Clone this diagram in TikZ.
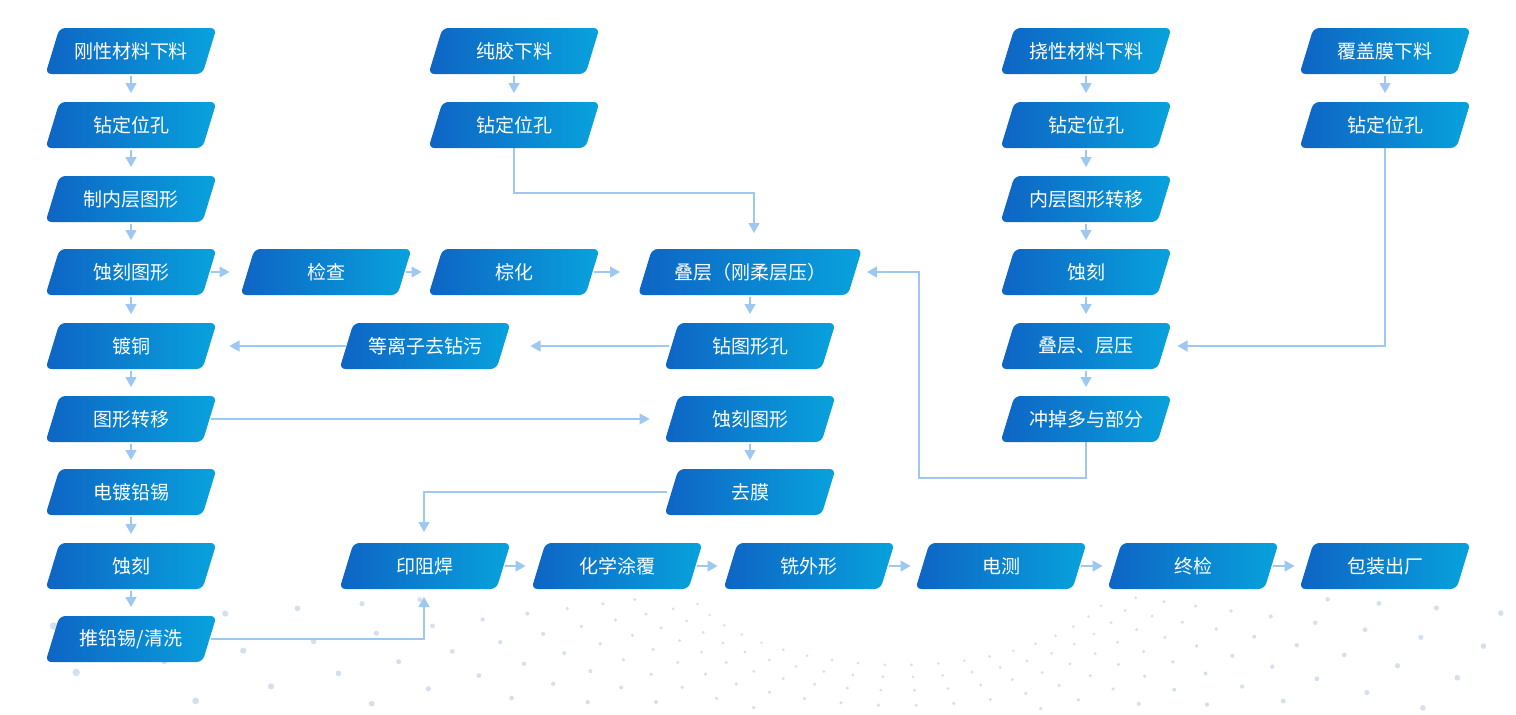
\documentclass[tikz,border=0pt]{standalone}
\usepackage{fontspec}
\newfontfamily\cjk{Noto Sans CJK SC}
\usetikzlibrary{arrows.meta,calc}
\definecolor{cL}{RGB}{14,100,196}
\definecolor{cR}{RGB}{8,162,221}
\definecolor{ln}{RGB}{158,200,242}
\definecolor{dotc}{RGB}{212,224,238}
\begin{document}
\begin{tikzpicture}[x=1pt,y=-1pt,
  pb/.style={minimum width=171pt, minimum height=46pt, inner sep=0pt, outer sep=0pt,
    text=white, font=\cjk\fontsize{19}{19}\selectfont,
    path picture={\shade[left color=cL, right color=cR, rounded corners=6pt]
      (path picture bounding box.south west)
      -- ([xshift=14pt]path picture bounding box.north west)
      -- (path picture bounding box.north east)
      -- ([xshift=-14pt]path picture bounding box.south east) -- cycle;}},
  wide/.style={minimum width=224pt},
  arr/.style={draw=ln, line width=1.3pt, -{Triangle[length=10pt,width=11pt]}},
  v/.style={arr, shorten >=9pt, shorten <=2pt}]
\fill[white] (0,0) rectangle (1516,715);
\useasboundingbox (0,0) rectangle (1516,715);

% faint decorative dot field
\foreach \t in {3,10,...,178}{
  \foreach \k in {0,...,15}{
    \pgfmathsetmacro\r{200*1.12^\k}
    \pgfmathsetmacro\px{900+1.1*\r*cos(\t)}
    \pgfmathsetmacro\py{565+0.5*\r*sin(\t)}
    \pgfmathtruncatemacro\ok{and(and(\py>596,\py<713),and(\px>2,\px<1514))}
    \ifnum\ok=1
      \pgfmathsetmacro\rr{0.6+0.004*\r}
      \fill[dotc] (\px,\py) circle[radius=\rr pt];
    \fi
  }
}

% column 1
\node[pb] (a1) at (131,51)  {刚性材料下料};
\node[pb] (a2) at (131,125) {钻定位孔};
\node[pb] (a3) at (131,199) {制内层图形};
\node[pb] (a4) at (131,272) {蚀刻图形};
\node[pb] (a5) at (131,346) {镀铜};
\node[pb] (a6) at (131,419) {图形转移};
\node[pb] (a7) at (131,492) {电镀铅锡};
\node[pb] (a8) at (131,566) {蚀刻};
\node[pb] (a9) at (131,639) {推铅锡/清洗};
% middle
\node[pb] (jc) at (326,272) {检查};
\node[pb] (zh) at (514,272) {棕化};
\node[pb] (b1) at (514,51)  {纯胶下料};
\node[pb] (b2) at (514,125) {钻定位孔};
\node[pb,wide] (L) at (750,272) {叠层（刚柔层压）};
\node[pb] (c1) at (750,346) {钻图形孔};
\node[pb] (dl) at (425,346) {等离子去钻污};
\node[pb] (c2) at (750,419) {蚀刻图形};
\node[pb] (c3) at (750,492) {去膜};
% column 5
\node[pb] (f1) at (1086,51)  {挠性材料下料};
\node[pb] (f2) at (1086,125) {钻定位孔};
\node[pb] (f3) at (1086,199) {内层图形转移};
\node[pb] (f4) at (1086,272) {蚀刻};
\node[pb] (f5) at (1086,346) {叠层、层压};
\node[pb] (f6) at (1086,419) {冲掉多与部分};
% column 6
\node[pb] (g1) at (1385,51)  {覆盖膜下料};
\node[pb] (g2) at (1385,125) {钻定位孔};
% bottom row
\node[pb] (p1) at (425,566)  {印阻焊};
\node[pb] (p2) at (617,566)  {化学涂覆};
\node[pb] (p3) at (809,566)  {铣外形};
\node[pb] (p4) at (1001,566) {电测};
\node[pb] (p5) at (1193,566) {终检};
\node[pb] (p6) at (1385,566) {包装出厂};

% vertical arrows
\foreach \a/\b in {a1/a2,a2/a3,a3/a4,a4/a5,a5/a6,a6/a7,a7/a8,a8/a9,
                   b1/b2,L/c1,c2/c3,f1/f2,f2/f3,f3/f4,f4/f5,f5/f6,g1/g2}
  \draw[v] (\a.south) -- (\b.north);

% rightward arrows
\foreach \a/\b/\s in {a4/jc/11,jc/zh/7,zh/L/18,p1/p2/6,p2/p3/6,p3/p4/5,p4/p5/5,p5/p6/5}
  \draw[arr, shorten >=\s pt] ([xshift=-6pt]\a.east) -- (\b.west);
\draw[arr, shorten >=15pt] ([xshift=-6pt]a6.east) -- (c2.west);

% leftward arrows
\draw[arr, shorten >=20pt] ([xshift=4pt]c1.west) -- (dl.east);
\draw[arr, shorten >=13pt] ([xshift=6pt]dl.west) -- (a5.east);

% elbow connectors
\coordinate (k1) at (514,193);
\draw[arr, shorten >=16pt] (b2.south) -- (k1) -| ([xshift=4pt]L.north);
\coordinate (k2) at (919,478);
\draw[arr, shorten >=5pt] (f6.south) |- (k2) |- (L.east);
\draw[arr, shorten >=6pt] (g2.south) |- (f5.east);
\draw[arr, shorten >=11pt] ([xshift=2pt]c3.west) -| ([xshift=-1pt]p1.north);
\draw[arr, shorten >=8pt] ([xshift=-6pt]a9.east) -| ([xshift=-1pt]p1.south);
\end{tikzpicture}
\end{document}
